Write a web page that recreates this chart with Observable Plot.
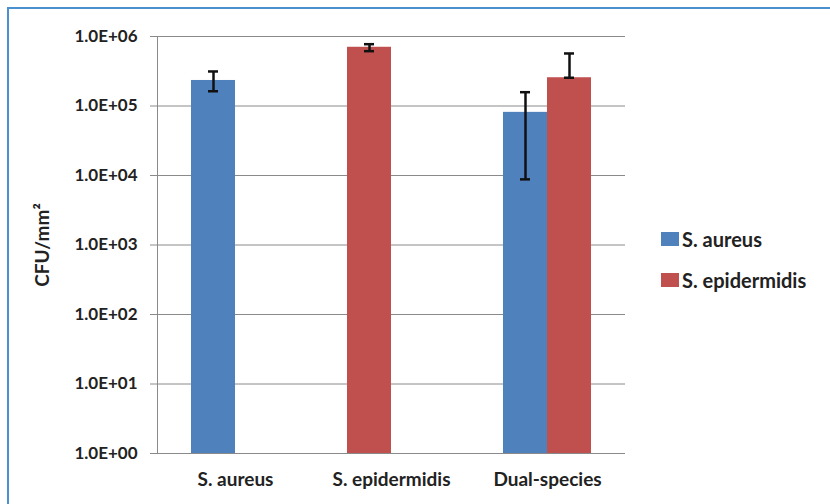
<!DOCTYPE html>
<html>
<head>
<meta charset="utf-8">
<script src="https://cdn.jsdelivr.net/npm/d3@7"></script>
<script src="https://cdn.jsdelivr.net/npm/@observablehq/plot@0.6"></script>
<style>
  html, body { margin: 0; padding: 0; background: #fff; }
  #wrap { position: relative; width: 830px; height: 504px; overflow: hidden; font-family: Lato, "Open Sans", sans-serif; }
  #border { position: absolute; left: 7px; top: 7px; width: 900px; height: 600px; border-left: 2px solid #4a90d0; border-top: 2px solid #4a90d0; box-sizing: border-box; pointer-events: none; }
  #legend { position: absolute; left: 661px; top: 228px; font: bold 20px Lato, sans-serif; color: #222; }
  #legend .item { display: flex; align-items: center; height: 22px; margin-bottom: 19px; }
  #legend .sw { width: 18px; height: 14px; margin-right: 3px; }
</style>
</head>
<body>
<div id="wrap"><div id="chart"></div><div id="legend"></div><div id="border"></div></div>
<script>
// Categories and series
const groups = ["S. aureus", "S. epidermidis", "Dual-species"];
const seriesNames = ["S. aureus", "S. epidermidis"];
const seriesColors = ["#4f81bd", "#c0504d"];

// One entry per bar
const barGroup  = ["S. aureus", "S. epidermidis", "Dual-species", "Dual-species"];
const barSeries = ["S. aureus", "S. epidermidis", "S. aureus", "S. epidermidis"];
const barValue  = [2.33e5, 7.0e5, 8.1e4, 2.55e5];
const errLow    = [1.63e5, 6.15e5, 8.8e3, 2.55e5];
const errHigh   = [3.14e5, 7.75e5, 1.58e5, 5.7e5];

// Y ticks
const yTicks = [1, 10, 100, 1000, 10000, 100000, 1000000];
const yLabel = "CFU/mm²";

// build table; slot = position of bar inside its group
const data = barGroup.map((g, i) => {
  const slot = barGroup.slice(0, i).filter(d => d === g).length;
  return {group: g, series: barSeries[i], value: barValue[i], low: errLow[i], high: errHigh[i], base: yTicks[0], slot};
});
const left = data.filter(d => d.slot === 0);
const right = data.filter(d => d.slot === 1);

const fmt = d => "1.0E+" + String(Math.round(Math.log10(d))).padStart(2, "0");

const chart = Plot.plot({
  width: 830,
  height: 504,
  marginLeft: 157,
  marginRight: 205,
  marginTop: 36,
  marginBottom: 51,
  style: {fontFamily: "Lato, sans-serif", background: "transparent", color: "#222"},
  x: {domain: groups, paddingInner: 0.436, paddingOuter: 0.218, axis: null},
  y: {type: "log", domain: [1, 1e6], ticks: yTicks},
  color: {domain: seriesNames, range: seriesColors},
  marks: [
    Plot.gridY(yTicks, {stroke: "#8a8a8a", strokeOpacity: 1}),
    Plot.axisY(yTicks, {tickSize: 7, stroke: "#8a8a8a", tickFormat: fmt, tickPadding: 13,
      fontSize: 17, fontWeight: "bold", fill: "#222",
      label: yLabel, labelAnchor: "center", labelArrow: "none", labelOffset: 122}),
    Plot.axisX({tickSize: 0, tickPadding: 19, fontSize: 19, fontWeight: "bold", fill: "#222", label: null}),
    Plot.frame({anchor: "left", stroke: "#8a8a8a"}),
    Plot.barY(left, {x: "group", y1: "base", y2: "value", fill: "series", insetRight: 44}),
    Plot.barY(right, {x: "group", y1: "base", y2: "value", fill: "series", insetLeft: 44}),
    Plot.ruleX(left, {x: "group", y1: "low", y2: "high", stroke: "#111", strokeWidth: 2.5, dx: -22}),
    Plot.ruleX(right, {x: "group", y1: "low", y2: "high", stroke: "#111", strokeWidth: 2.5, dx: 22}),
    Plot.tickY(left, {x: "group", y: "low", stroke: "#111", strokeWidth: 2.5, insetLeft: 17, insetRight: 61}),
    Plot.tickY(left, {x: "group", y: "high", stroke: "#111", strokeWidth: 2.5, insetLeft: 17, insetRight: 61}),
    Plot.tickY(right, {x: "group", y: "low", stroke: "#111", strokeWidth: 2.5, insetLeft: 61, insetRight: 17}),
    Plot.tickY(right, {x: "group", y: "high", stroke: "#111", strokeWidth: 2.5, insetLeft: 61, insetRight: 17})
  ]
});
document.getElementById("chart").appendChild(chart);

// y-axis title styling
chart.querySelectorAll("g[aria-label='y-axis label'] text").forEach(t => {
  t.setAttribute("font-size", "19"); t.setAttribute("font-weight", "bold");
});

// HTML legend
const legend = document.getElementById("legend");
seriesNames.forEach((s, i) => {
  const item = document.createElement("div");
  item.className = "item";
  const sw = document.createElement("div");
  sw.className = "sw"; sw.style.background = seriesColors[i];
  const lab = document.createElement("span");
  lab.textContent = s;
  item.appendChild(sw); item.appendChild(lab);
  legend.appendChild(item);
});
</script>
</body>
</html>
